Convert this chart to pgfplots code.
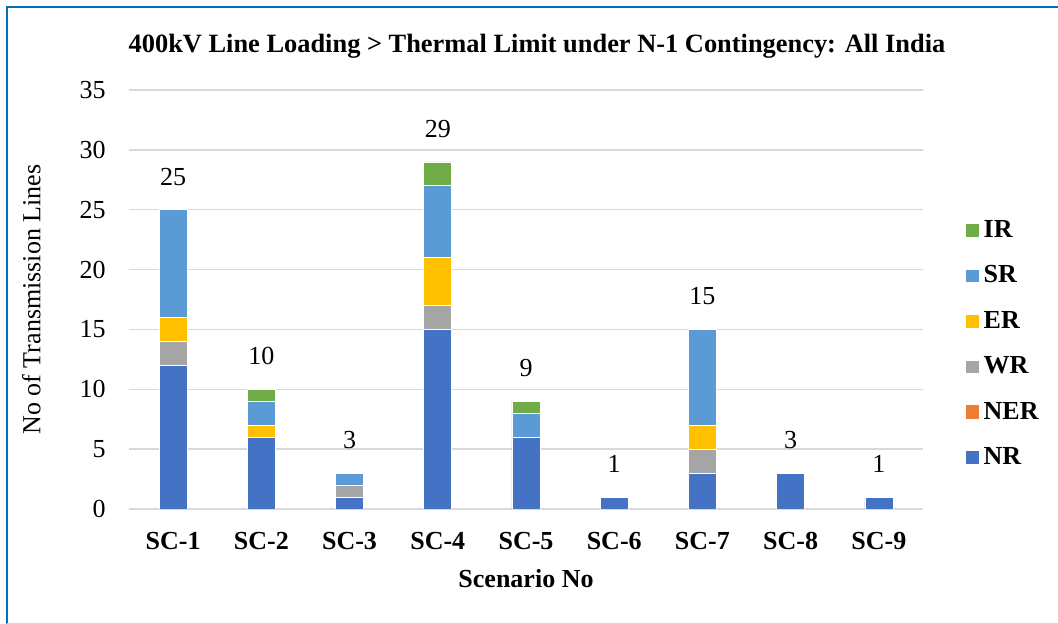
\documentclass[border=0pt]{standalone}
\usepackage{fontspec}
\setmainfont{Liberation Serif}
\usepackage{pgfplots}
\pgfplotsset{compat=1.18}
\definecolor{cNR}{HTML}{4472C4}
\definecolor{cNER}{HTML}{ED7D31}
\definecolor{cWR}{HTML}{A5A5A5}
\definecolor{cER}{HTML}{FFC000}
\definecolor{cSR}{HTML}{5B9BD5}
\definecolor{cIR}{HTML}{70AD47}
\definecolor{frameblue}{HTML}{0070C0}
\definecolor{gridgray}{HTML}{D9D9D9}
\begin{document}
\begin{tikzpicture}
% 1 px of the reference = 0.5pt
\path[use as bounding box] (0pt,0pt) rectangle (529pt,312pt);
\draw[frameblue, line width=1pt] (3.5pt,0pt) -- (3.5pt,308.3pt) -- (529pt,308.3pt);
\draw[frameblue!25, line width=0.6pt] (3.5pt,0.4pt) -- (529pt,0.4pt);
\node[font=\fontsize{13.2}{15}\selectfont\bfseries] at (268.5pt,289pt) {400kV Line Loading > Thermal Limit under N-1 Contingency: All India};
\begin{axis}[
    at={(64.5pt,57.5pt)}, anchor=south west,
    scale only axis, width=397pt, height=209.5pt,
    ybar stacked, bar width=14pt,
    xmin=-0.5, xmax=8.5, ymin=0, ymax=35,
    xtick={0,...,8},
    xticklabels={SC-1,SC-2,SC-3,SC-4,SC-5,SC-6,SC-7,SC-8,SC-9},
    ytick={0,5,...,35},
    major tick length=0pt,
    axis x line*=bottom, axis y line*=left,
    x axis line style={gridgray, line width=0.75pt, -},
    y axis line style={draw=none},
    ymajorgrids, grid style={gridgray, line width=0.75pt},
    /pgf/number format/assume math mode=true,
    x tick label style={font=\fontsize{13}{15}\selectfont\bfseries, anchor=north, inner sep=0pt, yshift=-11.5pt},
    y tick label style={font=\fontsize{13}{15}\selectfont, anchor=east, inner sep=0pt, xshift=-11.5pt},
    xlabel={Scenario No}, ylabel={No of Transmission Lines},
    every axis x label/.style={at={(axis description cs:0.5,-0.165)}, anchor=center, font=\fontsize{13}{15}\selectfont\bfseries},
    every axis y label/.style={at={(axis description cs:-0.123,0.5)}, anchor=center, rotate=90, font=\fontsize{13}{15}\selectfont},
    legend style={at={(axis description cs:1.053,0.394)}, anchor=west, draw=none, fill=none,
        font=\fontsize{13}{15}\selectfont\bfseries, inner sep=0pt, row sep=8.7pt,
        legend cell align=left},
    legend image code/.code={\fill[#1] (0pt,-3.4pt) rectangle (6.8pt,3.4pt);},
    reverse legend,
    every node near coord/.append style={font=\fontsize{13}{15}\selectfont, anchor=south, inner sep=0pt, yshift=12pt, text=black},
]
\addplot[fill=cNR, draw=white, line width=0.3pt] coordinates {(0,12) (1,6) (2,1) (3,15) (4,6) (5,1) (6,3) (7,3) (8,1)};
\addplot[fill=cNER, draw=none] coordinates {(0,0) (1,0) (2,0) (3,0) (4,0) (5,0) (6,0) (7,0) (8,0)};
\addplot[fill=cWR, draw=white, line width=0.3pt] coordinates {(0,2) (1,0) (2,1) (3,2) (4,0) (5,0) (6,2) (7,0) (8,0)};
\addplot[fill=cER, draw=white, line width=0.3pt] coordinates {(0,2) (1,1) (2,0) (3,4) (4,0) (5,0) (6,2) (7,0) (8,0)};
\addplot[fill=cSR, draw=white, line width=0.3pt] coordinates {(0,9) (1,2) (2,1) (3,6) (4,2) (5,0) (6,8) (7,0) (8,0)};
\addplot[fill=cIR, draw=white, line width=0.3pt] coordinates {(0,0) (1,1) (2,0) (3,2) (4,1) (5,0) (6,0) (7,0) (8,0)};
\addplot[forget plot, draw=none, fill=none, stacked ignores zero=false,
    nodes near coords, point meta=explicit symbolic]
    coordinates {(0,0)[25] (1,0)[10] (2,0)[3] (3,0)[29] (4,0)[9] (5,0)[1] (6,0)[15] (7,0)[3] (8,0)[1]};
\legend{NR,NER,WR,ER,SR,IR}
\end{axis}
\end{tikzpicture}
\end{document}
